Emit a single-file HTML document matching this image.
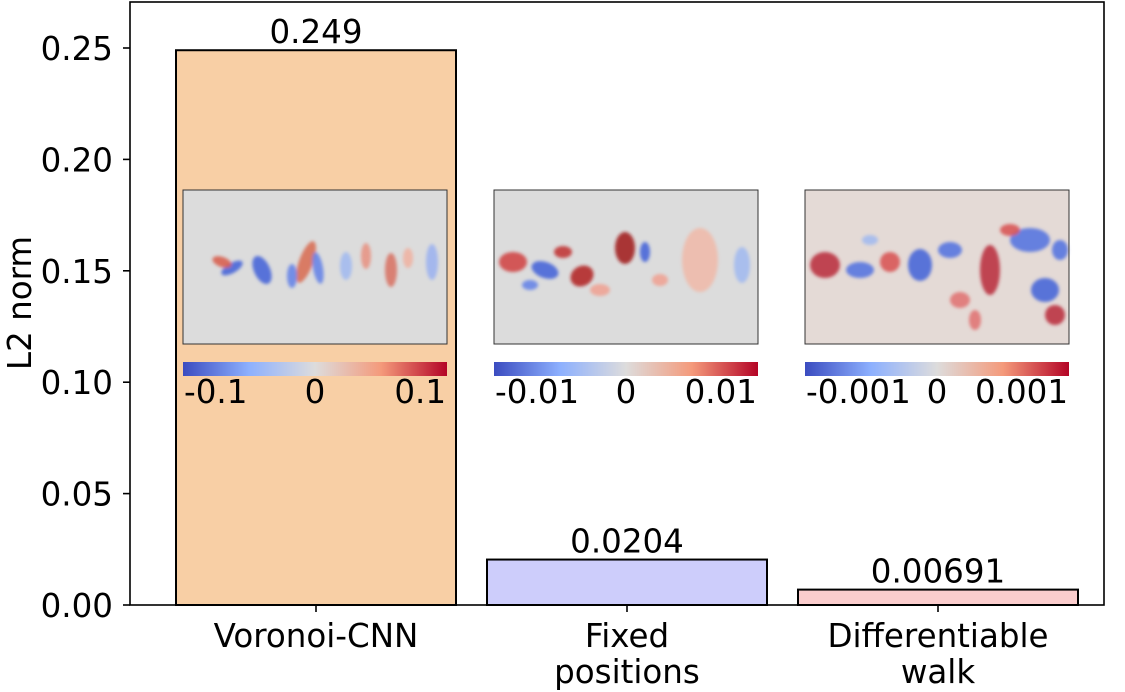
<!DOCTYPE html>
<html><head><meta charset="utf-8"><style>
body{margin:0;background:#fff;}
svg{display:block;font-family:"DejaVu Sans","Liberation Sans",sans-serif;}
</style></head><body>
<svg id="chart" width="1125" height="692" viewBox="0 0 1125 692">
<defs>
<linearGradient id="cw" x1="0" x2="1">
<stop offset="0" stop-color="#3b4cc0"/><stop offset="0.25" stop-color="#8db0fe"/>
<stop offset="0.5" stop-color="#dddcdc"/><stop offset="0.75" stop-color="#f49a7b"/>
<stop offset="1" stop-color="#b40426"/></linearGradient>
<filter id="bl"><feGaussianBlur stdDeviation="1.5"/></filter>
</defs>
<g id="bars"></g>
<g id="insets"></g>
<g id="axes"></g>
</svg>
<script>
const categories = ["Voronoi-CNN", "Fixed|positions", "Differentiable|walk"];
const values = [0.249, 0.0204, 0.00691];
const valueLabels = ["0.249", "0.0204", "0.00691"];
const colors = ["#f8cfa5", "#cdcdfb", "#fbcdcd"];
const yTicks = [0, 0.05, 0.10, 0.15, 0.20, 0.25];
const yTickLabels = ["0.00", "0.05", "0.10", "0.15", "0.20", "0.25"];
const cbarTickLabels = [["-0.1","0","0.1"],["-0.01","0","0.01"],["-0.001","0","0.001"]];

const NS = "http://www.w3.org/2000/svg";
const X0 = 130, X1 = 1104, Y0 = 605, YT = 2;
const FS = 32.5;
const yScale = v => Y0 - v * 2228;
const xCenter = i => 316 + i * 311;
const BW = 280;
function mk(tag, attrs, parent, text){
  const e = document.createElementNS(NS, tag);
  for (const k in attrs) e.setAttribute(k, attrs[k]);
  if (text !== undefined) e.textContent = text;
  parent.appendChild(e); return e;
}
const gb = document.getElementById("bars");
const gi = document.getElementById("insets");
const ga = document.getElementById("axes");

values.forEach((v, i) => {
  const r = mk("rect", {x: xCenter(i) - BW/2, y: yScale(v), width: BW, height: Y0 - yScale(v), fill: colors[i], stroke: "#000", "stroke-width": 2}, gb);
  
  
  const t = mk("text", {x: xCenter(i), y: yScale(v) - 7, "text-anchor": "middle", "font-size": FS}, gb, valueLabels[i]);
  
  
  const parts = categories[i].split("|");
  parts.forEach((p, j) => {
    const c = mk("text", {x: xCenter(i), y: 647 + j * 36, "text-anchor": "middle", "font-size": FS}, ga, p);
    
    
  });
});

const blobSets = [
  [[232,268,12,5,"#3f5fd8",-30],[222,262,10,5,"#d85a48",20],[262,270,8,15,"#3f5fd8",-25],[306,262,7,22,"#d86a50",20],[292,276,5,12,"#6080e8",0],[318,268,5,16,"#6080e8",-10],[366,256,5,13,"#e89080",0],[391,270,6,17,"#d87060",0],[432,262,6,18,"#9ab0f0",0],[346,266,6,14,"#a0b8f0",0],[408,258,5,10,"#f0b0a0",0]],
  [[513,262,14,10,"#d04040",0],[545,270,14,8,"#3f5fd8",20],[563,252,9,6,"#c03030",0],[582,276,12,10,"#b02020",-30],[625,248,10,16,"#a01818",0],[645,252,5,10,"#3f5fd8",0],[700,260,18,32,"#f0b8a8",0],[742,265,8,18,"#a0b8f0",0],[600,290,10,6,"#f0a090",0],[530,285,8,5,"#6080e8",0],[660,280,8,6,"#f0a090",0]],
  [[825,265,15,13,"#b82838",0],[860,270,14,8,"#5070e0",0],[890,262,10,10,"#d85050",0],[920,265,12,16,"#4060d8",0],[950,250,12,8,"#5070e0",0],[990,270,10,25,"#b82838",0],[1030,240,20,12,"#5070e0",0],[1045,290,14,12,"#4060d8",0],[1055,315,10,10,"#b82838",0],[1010,230,10,6,"#d85050",0],[960,300,10,8,"#e07070",0],[1060,250,8,10,"#5070e0",0],[975,320,6,10,"#e07070",0],[870,240,8,5,"#a0b8f0",0]]
];
for (let i = 0; i < 3; i++) {
  const L = 183 + i * 311, W = 264;
  const g = mk("g", {}, gi);
  
  
  mk("rect", {x: L, y: 190, width: W, height: 154, fill: i===2 ? "#e4dad6" : "#dcdcdc"}, g);
  const bg = mk("g", {filter: "url(#bl)"}, g);
  blobSets[i].forEach(b => mk("ellipse", {cx: b[0], cy: b[1], rx: b[2], ry: b[3], fill: b[4], opacity: 0.85, transform: `rotate(${b[5]} ${b[0]} ${b[1]})`}, bg));
  mk("rect", {x: L, y: 190, width: W, height: 154, fill: "none", stroke: "#333", "stroke-width": 1}, g);
  const cb = mk("rect", {x: L, y: 362, width: W, height: 14, fill: "url(#cw)"}, g);
  
  
  const pos = [L + 1, L + W/2, L + W - 1];
  const anchors = ["start", "middle", "end"];
  cbarTickLabels[i].forEach((s, k) => {
    const t = mk("text", {x: pos[k], y: 403, "text-anchor": anchors[k], "font-size": FS}, g, s);
    
    
  });
}

const frame = mk("rect", {x: X0, y: YT, width: X1 - X0, height: Y0 - YT, fill: "none", stroke: "#000", "stroke-width": 1.6}, ga);


yTicks.forEach((v, i) => {
  mk("line", {x1: X0 - 7, x2: X0, y1: yScale(v), y2: yScale(v), stroke: "#000", "stroke-width": 1.6}, ga);
  const t = mk("text", {x: X0 - 17, y: yScale(v) + 12, "text-anchor": "end", "font-size": FS}, ga, yTickLabels[i]);
  
  
});
for (let i = 0; i < 3; i++) mk("line", {x1: xCenter(i), x2: xCenter(i), y1: Y0, y2: Y0 + 7, stroke: "#000", "stroke-width": 1.6}, ga);
const yt = mk("text", {x: 31, y: 303, "text-anchor": "middle", "font-size": FS, transform: "rotate(-90 31 303)"}, ga, "L2 norm");


</script>
</body></html>
